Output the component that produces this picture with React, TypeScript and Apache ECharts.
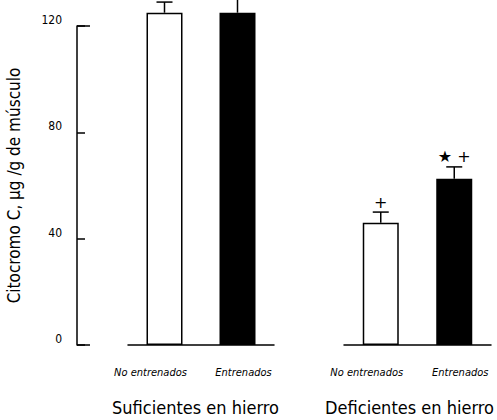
import React, { useEffect, useRef } from "react";
import * as echarts from "echarts";

const categories = ["No entrenados", "Entrenados"];
const groups = ["Suficientes en hierro", "Deficientes en hierro"];
const sufValues = [125, 125];
const sufErrors = [4, 8];
const sufMarks = ["", ""];
const defValues = [46, 62.5];
const defErrors = [4, 4.5];
const defMarks = ["+", "★ +"];
const yTicks = [0, 40, 80, 120];
const yName = "Citocromo C, μg /g de músculo";

const NARROW = '"Liberation Sans Narrow", "DejaVu Sans Condensed", Arial, sans-serif';

const barStyles = [
  { color: "#ffffff", borderColor: "#000000", borderWidth: 1.5 },
  { color: "#000000", borderColor: "#000000", borderWidth: 1.5 },
];

function errorSeries(values: number[], errors: number[], marks: string[], xi: number, yi: number) {
  return {
    type: "custom",
    xAxisIndex: xi,
    yAxisIndex: yi,
    clip: false,
    silent: true,
    z: 1,
    data: values.map((v, i) => [i, v, errors[i], marks[i]]),
    renderItem: (params: any, api: any) => {
      const idx = api.value(0);
      const v = api.value(1);
      const e = api.value(2);
      const mark = marks[params.dataIndex];
      const base = api.coord([idx, v]);
      const top = api.coord([idx, v + e]);
      const children: any[] = [
        { type: "line", shape: { x1: base[0], y1: base[1], x2: top[0], y2: top[1] }, style: { stroke: "#000", lineWidth: 1.5 } },
        { type: "line", shape: { x1: top[0] - 8, y1: top[1], x2: top[0] + 8, y2: top[1] }, style: { stroke: "#000", lineWidth: 1.5 } },
      ];
      if (mark) {
        children.push({
          type: "text",
          x: top[0],
          y: top[1] - 10,
          style: { text: mark, fill: "#000", font: '16px "DejaVu Sans", sans-serif', align: "center", verticalAlign: "middle" },
        });
      }
      return { type: "group", children };
    },
  };
}

export default function App() {
  const ref = useRef<HTMLDivElement>(null);
  useEffect(() => {
    if (!ref.current) return;
    const chart = echarts.init(ref.current, null, { renderer: "svg" });
    const xAxisCommon = {
      type: "category",
      data: categories,
      axisLine: { show: true, lineStyle: { color: "#000", width: 1.5 } },
      axisTick: { show: false },
      axisLabel: {
        interval: 0,
        color: "#000",
        fontFamily: NARROW,
        fontStyle: "italic",
        fontSize: 11,
        margin: 22,
        formatter: (v: string) => (v === categories[0] ? "{a|" + v + "}" : "{b|" + v + "}"),
        rich: {
          a: { fontFamily: NARROW, fontStyle: "italic", fontSize: 11, color: "#000", padding: [0, 28, 0, 0] },
          b: { fontFamily: NARROW, fontStyle: "italic", fontSize: 11, color: "#000", padding: [0, 0, 0, 12] },
        },
      },
      nameLocation: "middle",
      nameGap: 53,
    };
    chart.setOption({
      animation: false,
      backgroundColor: "#ffffff",
      grid: [
        { left: 128, width: 146, top: 26, bottom: 75, outerBoundsMode: "none", containLabel: false },
        { left: 344, width: 147, top: 26, bottom: 75, outerBoundsMode: "none", containLabel: false },
      ],
      xAxis: [
        {
          ...xAxisCommon,
          gridIndex: 0,
          name: groups[0],
          nameTextStyle: { color: "#000", fontFamily: NARROW, fontSize: 18, padding: [0, 11, 0, 0] },
        },
        {
          ...xAxisCommon,
          gridIndex: 1,
          name: groups[1],
          nameTextStyle: { color: "#000", fontFamily: NARROW, fontSize: 18, padding: [0, 16, 0, 0] },
        },
      ],
      yAxis: [
        {
          type: "value",
          gridIndex: 0,
          position: "left",
          min: yTicks[0],
          max: yTicks[yTicks.length - 1],
          interval: yTicks[1] - yTicks[0],
          offset: 51,
          splitLine: { show: false },
          axisLine: { show: true, lineStyle: { color: "#000", width: 1.5 } },
          axisTick: { show: true, inside: true, length: 8, lineStyle: { color: "#000", width: 1.5 } },
          axisLabel: { color: "#000", fontFamily: NARROW, fontSize: 12, margin: 15, verticalAlign: "bottom" },
          name: yName,
          nameLocation: "middle",
          nameGap: 55,
          nameTextStyle: { color: "#000", fontFamily: NARROW, fontSize: 17 },
        },
        {
          type: "value",
          gridIndex: 0,
          position: "left",
          min: yTicks[0],
          max: yTicks[yTicks.length - 1],
          interval: yTicks[yTicks.length - 1] - yTicks[0],
          offset: 51,
          splitLine: { show: false },
          axisLine: { show: false },
          axisTick: { show: true, inside: true, length: 13, lineStyle: { color: "#000", width: 1.5 } },
          axisLabel: { show: false },
        },
        {
          type: "value",
          gridIndex: 1,
          min: yTicks[0],
          max: yTicks[yTicks.length - 1],
          show: false,
          splitLine: { show: false },
        },
      ],
      series: [
        {
          type: "bar",
          xAxisIndex: 0,
          yAxisIndex: 0,
          barWidth: 36,
          clip: false,
          z: 2,
          data: sufValues.map((v, i) => ({ value: v, itemStyle: barStyles[i] })),
        },
        errorSeries(sufValues, sufErrors, sufMarks, 0, 0),
        {
          type: "bar",
          xAxisIndex: 1,
          yAxisIndex: 2,
          barWidth: 36,
          clip: false,
          z: 2,
          data: defValues.map((v, i) => ({ value: v, itemStyle: barStyles[i] })),
        },
        errorSeries(defValues, defErrors, defMarks, 1, 2),
      ],
    });
    return () => chart.dispose();
  }, []);
  return <div ref={ref} style={{ width: 497, height: 420, position: "absolute", left: 0, top: 0 }} />;
}
